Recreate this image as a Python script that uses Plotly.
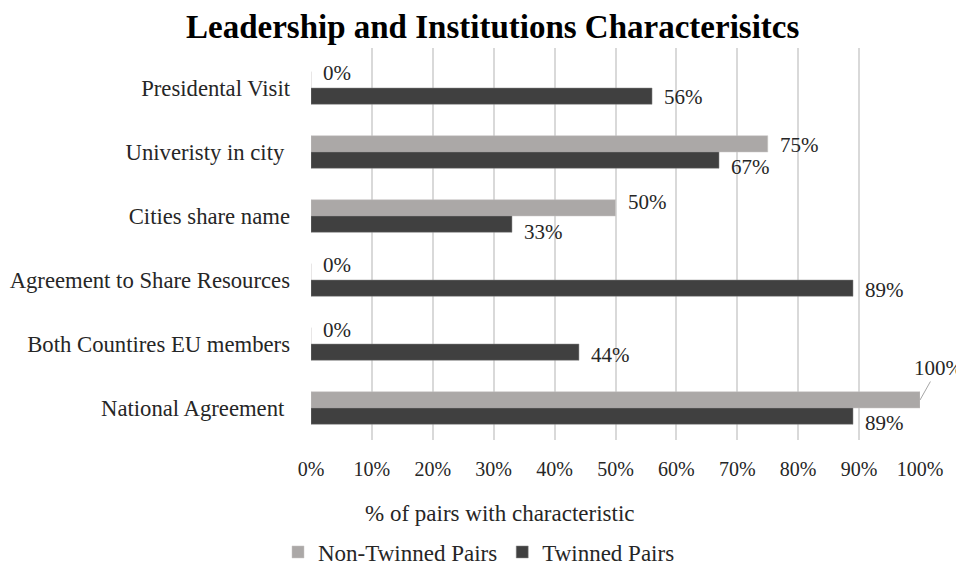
import plotly.graph_objects as go

# data
categories = [
    "Presidental Visit",
    "Univeristy in city ",
    "Cities share name",
    "Agreement to Share Resources",
    "Both Countires EU members",
    "National Agreement ",
]
non_twinned = [0, 75, 50, 0, 0, 100]
twinned = [56, 67, 33, 89, 44, 89]
x_ticks = list(range(0, 101, 10))
x_ticktext = [f"{v}%" for v in x_ticks]

FONT = "Liberation Serif"
LIGHT = "#aba8a7"
DARK = "#404040"
TXT = "#262626"

# the page body has an 8px margin, so the figure is 8px smaller than the window
W, H = 956, 557
L, R, T, B = 303, 44, 40, 125
PW, PH = W - L - R, H - T - B  # plot area in px

# vertical nudges (px, up is positive) for the data labels, as Excel placed them
nt_nudge = [15, 7, 14, 15, 14, 0]
tw_nudge = [-9, -15, -16, -10, -11, -15]

fig = go.Figure()
fig.add_trace(go.Bar(
    y=categories, x=non_twinned, orientation="h", name="Non-Twinned Pairs",
    marker=dict(color=LIGHT, line=dict(color="#c8c6c5", width=0.5)),
))
fig.add_trace(go.Bar(
    y=categories, x=twinned, orientation="h", name="Twinned Pairs",
    marker=dict(color=DARK, line=dict(color="#8a8a8a", width=0.5)),
))

# data labels
for cat, v, dy in zip(categories, non_twinned, nt_nudge):
    if v >= 100:
        fig.add_annotation(
            x=v, y=cat, text=f"{v}%", yshift=8, showarrow=True, arrowhead=0,
            arrowwidth=1, arrowcolor="#a6a6a6", ax=18, ay=-32, standoff=0,
            font=dict(family=FONT, size=21, color=TXT),
        )
    else:
        fig.add_annotation(
            x=v, y=cat, text=f"{v}%", showarrow=False, xanchor="left",
            xshift=10, yshift=dy, font=dict(family=FONT, size=21, color=TXT),
        )
for cat, v, dy in zip(categories, twinned, tw_nudge):
    fig.add_annotation(
        x=v, y=cat, text=f"{v}%", showarrow=False, xanchor="left",
        xshift=10, yshift=dy, font=dict(family=FONT, size=21, color=TXT),
    )

# chart title as an annotation so its box sits inside the figure
fig.add_annotation(
    text="<b>Leadership and Institutions Characterisitcs</b>",
    xref="paper", yref="paper", x=(484 - L) / PW, y=1 + T / PH,
    xanchor="center", yanchor="top", showarrow=False, borderpad=0,
    font=dict(family=FONT, size=33, color="black"),
)

# x axis title, centred under the whole chart rather than the plot area
fig.add_annotation(
    text="% of pairs with characteristic", xref="paper", yref="paper",
    x=(492 - L) / PW, y=-73 / PH, xanchor="center", yanchor="middle",
    showarrow=False, font=dict(family=FONT, size=23, color=TXT),
)

fig.update_layout(
    width=W, height=H,
    margin=dict(l=L, r=R, t=T, b=B, autoexpand=False),
    paper_bgcolor="white", plot_bgcolor="white",
    barmode="group", bargap=0.49, bargroupgap=0,
    font=dict(family=FONT, size=20, color=TXT),
    showlegend=True,
    legend=dict(
        orientation="h", x=(270 - L) / PW, xanchor="left",
        y=-112 / PH, yanchor="middle", traceorder="normal",
        font=dict(family=FONT, size=23, color=TXT),
        itemwidth=30, tracegroupgap=0,
    ),
    xaxis=dict(
        range=[0, 100], tickmode="array", tickvals=x_ticks, ticktext=x_ticktext,
        showgrid=True, gridcolor="#d9d9d9", gridwidth=1.5,
        zeroline=False, showline=False, ticks="", automargin=False,
        ticklabelstandoff=15,
        tickfont=dict(family=FONT, size=20, color=TXT),
    ),
    yaxis=dict(
        categoryorder="array", categoryarray=categories,
        range=[5.5, -0.625], showgrid=False, zeroline=False, automargin=False,
        showline=False, ticks="", ticklabelstandoff=20,
        tickfont=dict(family=FONT, size=22.7, color=TXT),
    ),
)

fig.write_html("out.html")
